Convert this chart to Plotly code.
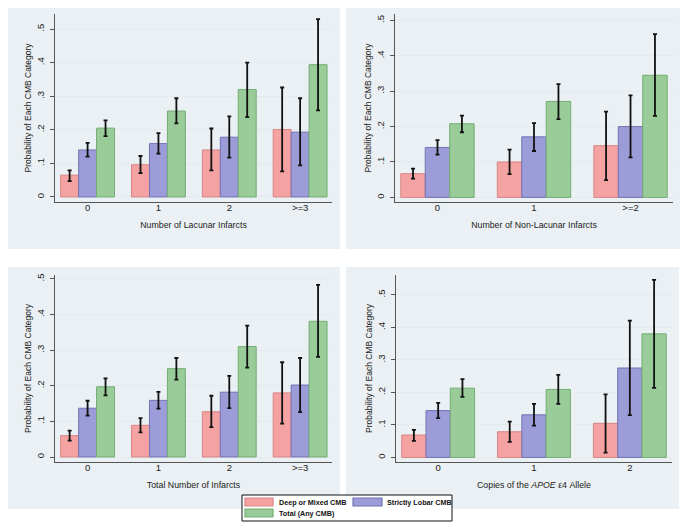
import plotly.graph_objects as go

# The page body adds an 8px margin; the figure is sized and laid out so that
# reference pixel coordinates land where they are in the reference image.
OFF = 8
W, H = 700 - OFF, 529 - OFF

series_names = ["Deep or Mixed CMB", "Strictly Lobar CMB", "Total (Any CMB)"]
fill_colors = ["#F4A2A2", "#9C9CD8", "#99CC99"]
line_colors = ["#D98585", "#7272B4", "#72AE72"]

# Panel 1: Number of Lacunar Infarcts
p1_cats = ["0", "1", "2", ">=3"]
p1_val = [[0.065, 0.096, 0.140, 0.201], [0.140, 0.159, 0.178, 0.193], [0.205, 0.256, 0.320, 0.394]]
p1_lo = [[0.047, 0.071, 0.079, 0.076], [0.120, 0.129, 0.117, 0.094], [0.181, 0.219, 0.238, 0.258]]
p1_hi = [[0.079, 0.122, 0.204, 0.326], [0.161, 0.190, 0.240, 0.294], [0.228, 0.294, 0.400, 0.530]]

# Panel 2: Number of Non-Lacunar Infarcts
p2_cats = ["0", "1", ">=2"]
p2_val = [[0.067, 0.100, 0.146], [0.141, 0.171, 0.200], [0.208, 0.271, 0.345]]
p2_lo = [[0.053, 0.066, 0.049], [0.121, 0.131, 0.113], [0.184, 0.221, 0.230]]
p2_hi = [[0.081, 0.135, 0.242], [0.162, 0.210, 0.288], [0.231, 0.320, 0.461]]

# Panel 3: Total Number of Infarcts
p3_cats = ["0", "1", "2", ">=3"]
p3_val = [[0.060, 0.089, 0.127, 0.180], [0.137, 0.159, 0.182, 0.202], [0.197, 0.248, 0.310, 0.381]]
p3_lo = [[0.046, 0.069, 0.084, 0.094], [0.116, 0.136, 0.137, 0.126], [0.173, 0.217, 0.251, 0.281]]
p3_hi = [[0.074, 0.109, 0.172, 0.266], [0.158, 0.183, 0.228, 0.278], [0.221, 0.278, 0.369, 0.483]]

# Panel 4: Copies of the APOE e4 Allele
p4_cats = ["0", "1", "2"]
p4_val = [[0.069, 0.079, 0.105], [0.144, 0.131, 0.275], [0.213, 0.209, 0.380]]
p4_lo = [[0.051, 0.048, 0.015], [0.121, 0.098, 0.130], [0.186, 0.165, 0.214]]
p4_hi = [[0.085, 0.110, 0.194], [0.168, 0.165, 0.421], [0.241, 0.254, 0.546]]

y_ticks = [0, 0.1, 0.2, 0.3, 0.4, 0.5]
y_tick_text = ["0", ".1", ".2", ".3", ".4", ".5"]

x_titles = ["Number of Lacunar Infarcts", "Number of Non-Lacunar Infarcts",
            "Total Number of Infarcts", "Copies of the <i>APOE</i> ε4 Allele"]
y_title = "Probability of Each CMB Category"

panels = [
    dict(cats=p1_cats, val=p1_val, lo=p1_lo, hi=p1_hi,
         bg=(6, 340, 6, 249), plot=(55, 332, 14, 202), yr=[-0.015, 0.545]),
    dict(cats=p2_cats, val=p2_val, lo=p2_lo, hi=p2_hi,
         bg=(346, 680, 6, 249), plot=(395, 673, 14, 202), yr=[-0.013, 0.518]),
    dict(cats=p3_cats, val=p3_val, lo=p3_lo, hi=p3_hi,
         bg=(6, 340, 267, 509), plot=(55, 332, 275, 462), yr=[-0.014, 0.511]),
    dict(cats=p4_cats, val=p4_val, lo=p4_lo, hi=p4_hi,
         bg=(346, 679, 267, 509), plot=(396, 672, 275, 462), yr=[-0.014, 0.561]),
]

FONT = "Liberation Sans, Arial, sans-serif"
TXT = "#222222"
fig = go.Figure()
shapes = []
annotations = []
layout_axes = {}


def px(x):
    return (x - OFF) / W


def py(y):
    return 1 - (y - OFF) / H


for i, p in enumerate(panels):
    k = "" if i == 0 else str(i + 1)
    xa, ya = "x" + k, "y" + k
    for s in range(3):
        err_plus = [h - v for h, v in zip(p["hi"][s], p["val"][s])]
        err_minus = [v - l for v, l in zip(p["val"][s], p["lo"][s])]
        fig.add_trace(go.Bar(
            x=p["cats"], y=p["val"][s], name=series_names[s], xaxis=xa, yaxis=ya,
            marker=dict(color=fill_colors[s], line=dict(color=line_colors[s], width=1)),
            error_y=dict(type="data", symmetric=False, array=err_plus, arrayminus=err_minus,
                         color="#111111", thickness=1.8, width=2),
            showlegend=False, offsetgroup=str(s)))
    x0, x1, y0, y1 = p["bg"]
    shapes.append(dict(type="rect", xref="paper", yref="paper", x0=px(x0), x1=px(x1),
                       y0=py(y1), y1=py(y0), fillcolor="#EAF0F3", line=dict(width=0), layer="below"))
    qx0, qx1, qy0, qy1 = p["plot"]
    n = len(p["cats"])
    xr = [-0.46, n - 1 + 0.45] if n == 4 else [-0.44, n - 1 + 0.44]
    layout_axes["xaxis" + k] = dict(
        domain=[px(qx0), px(qx1)], anchor=ya, type="category", range=xr,
        showline=True, linecolor="#555555", linewidth=1.2, ticks="", ticklabelstandoff=-4,
        tickfont=dict(size=9.5, color=TXT, family=FONT),
        showgrid=False, title=dict(text=x_titles[i], font=dict(size=8.8, color=TXT, family=FONT), standoff=10))
    layout_axes["yaxis" + k] = dict(
        domain=[py(qy1), py(qy0)], anchor=xa, range=p["yr"],
        tickvals=y_ticks, ticktext=y_tick_text, tickangle=-90,
        showline=True, linecolor="#555555", linewidth=1.2, ticks="outside", ticklen=4,
        tickcolor="#555555", tickfont=dict(size=9.5, color=TXT, family=FONT), ticklabelstandoff=2,
        showgrid=True, gridcolor="#E4EAEE", gridwidth=1, zeroline=False,
        title=dict(text=y_title, font=dict(size=8.5, color=TXT, family=FONT), standoff=2))

# Legend drawn manually
shapes.append(dict(type="rect", xref="paper", yref="paper", x0=px(242), x1=px(452),
                   y0=py(521), y1=py(495), fillcolor="white", line=dict(color="#111111", width=1)))
legend_items = [(245, 273, 498, 506, 277, 502), (353, 382, 498, 506, 385, 502), (245, 273, 509, 517, 277, 513)]
for s, (sx0, sx1, sy0, sy1, tx, ty) in enumerate(legend_items):
    shapes.append(dict(type="rect", xref="paper", yref="paper", x0=px(sx0), x1=px(sx1),
                       y0=py(sy1), y1=py(sy0), fillcolor=fill_colors[s],
                       line=dict(color=line_colors[s], width=1.2)))
    annotations.append(dict(x=px(tx), y=py(ty), xref="paper", yref="paper", text="<b>" + series_names[s] + "</b>",
                            showarrow=False, xanchor="left", yanchor="middle",
                            font=dict(size=7.2, color="#111111", family=FONT)))

# scan artifacts at right edge
shapes.append(dict(type="line", xref="paper", yref="paper", x0=px(693), x1=px(693), y0=py(145), y1=py(115),
                   line=dict(color="#999999", width=1.5)))
shapes.append(dict(type="line", xref="paper", yref="paper", x0=px(693), x1=px(693), y0=py(237), y1=py(208),
                   line=dict(color="#999999", width=1.5)))

fig.update_layout(
    width=W, height=H, margin=dict(l=0, r=0, t=0, b=0),
    paper_bgcolor="white", plot_bgcolor="white",
    barmode="group", bargap=0.24, bargroupgap=0,
    shapes=shapes, annotations=annotations, showlegend=False,
    font=dict(family=FONT), **layout_axes)

fig.write_html("out.html")
